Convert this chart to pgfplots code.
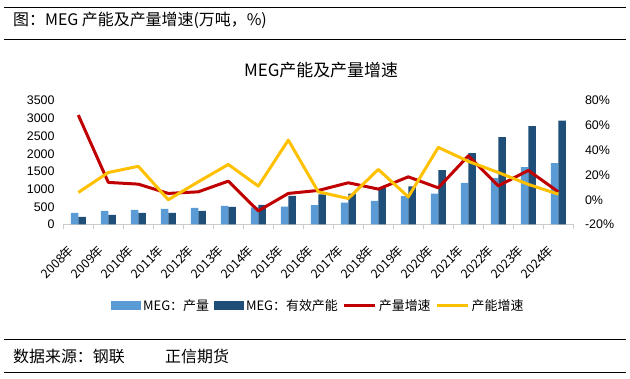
\documentclass[border=0pt]{standalone}
\usepackage{fontspec}
\setmainfont{Liberation Sans}
\newfontfamily\cjk{Noto Sans CJK SC}
\usepackage{pgfplots}
\pgfplotsset{compat=1.18}
\definecolor{lb}{HTML}{5B9BD5}
\definecolor{db}{HTML}{1F4E79}
\definecolor{rd}{HTML}{C00000}
\definecolor{yl}{HTML}{FFC000}
\pgfplotsset{
  barleg/.style={legend image code/.code={\fill[##1] (0bp,-4.5bp) rectangle (30bp,4.5bp);}},
  lineleg/.style={legend image code/.code={\draw[##1] (0bp,0bp) -- (31bp,0bp);}},
}
\newcommand\yr[1]{\mbox{\cjk #1年}}
\begin{document}
\begin{tikzpicture}
\path[use as bounding box] (0,0) rectangle (630bp,379bp);
\draw[line width=1.3bp] (4bp,371.3bp) -- (626bp,371.3bp);
\node[anchor=west, inner sep=0pt, font=\cjk\fontsize{16}{16}\selectfont] at (13bp,359bp) {图：MEG 产能及产量增速(万吨，\%)};
\draw[line width=1.3bp] (4bp,339.7bp) -- (626bp,339.7bp);
\node[inner sep=0pt, font=\cjk\fontsize{17}{17}\selectfont] at (321bp,309bp) {MEG产能及产量增速};
\draw[line width=1.3bp] (4bp,39.7bp) -- (626bp,39.7bp);
\node[anchor=west, inner sep=0pt, font=\cjk\fontsize{16}{16}\selectfont] at (13bp,23bp) {数据来源：钢联};
\node[anchor=west, inner sep=0pt, font=\cjk\fontsize{16}{16}\selectfont] at (165bp,23bp) {正信期货};
\draw[line width=1.3bp] (4bp,6.3bp) -- (626bp,6.3bp);

\begin{axis}[
  at={(63.3bp,154.5bp)}, anchor=south west,
  scale only axis, width=510bp, height=123.8bp,
  xmin=-0.5, xmax=16.5, ymin=0, ymax=3500,
  axis x line*=bottom, axis y line*=left,
  y axis line style={draw=none},
  x axis line style={draw=gray!40, line width=0.9bp, -},
  ytick={0,500,...,3500},
  ytick style={draw=none},
  major tick length=0bp,
  yticklabel style={font=\fontsize{12.5}{14}\selectfont, inner sep=0pt, anchor=east, xshift=-8.5bp},
  /pgf/number format/assume math mode=true,
  /pgf/number format/1000 sep={},
  xtick={0,...,16},
  xticklabels={\yr{2008},\yr{2009},\yr{2010},\yr{2011},\yr{2012},\yr{2013},\yr{2014},\yr{2015},\yr{2016},\yr{2017},\yr{2018},\yr{2019},\yr{2020},\yr{2021},\yr{2022},\yr{2023},\yr{2024}},
  major x tick style={draw=none},
  minor xtick={-0.5,0.5,...,16.5},
  minor x tick style={draw=gray!40, line width=0.9bp},
  minor tick length=5bp,
  tick align=outside,
  xticklabel style={font=\fontsize{12.5}{14}\selectfont, xshift=-11bp, yshift=-19bp, rotate=45, anchor=north east, inner sep=0pt},
  ybar, bar width=7.5bp,
]
\addplot[fill=lb, draw=none, bar shift=-3.75bp] coordinates {
(0,328) (1,385) (2,413) (3,442) (4,470) (5,527) (6,482) (7,505) (8,545) (9,617) (10,670) (11,800) (12,870) (13,1178) (14,1310) (15,1623) (16,1736)};
\addplot[fill=db, draw=none, bar shift=3.75bp] coordinates {
(0,215) (1,272) (2,328) (3,328) (4,385) (5,498) (6,555) (7,810) (8,850) (9,870) (10,1030) (11,1080) (12,1538) (13,2020) (14,2472) (15,2784) (16,2934)};
\end{axis}

\begin{axis}[
  at={(63.3bp,154.5bp)}, anchor=south west,
  scale only axis, width=510bp, height=123.8bp,
  xmin=-0.5, xmax=16.5, ymin=-20, ymax=80,
  axis x line=none, axis y line*=right,
  y axis line style={draw=none},
  ytick={-20,0,...,80},
  ytick style={draw=none},
  major tick length=0bp,
  /pgf/number format/assume math mode=true,
  yticklabel={\pgfmathprintnumber{\tick}\%},
  yticklabel style={font=\fontsize{12.5}{14}\selectfont, inner sep=0pt, anchor=west, xshift=11.5bp},
  legend style={at={(0.5,-0.658)}, anchor=center, draw=none, fill=none,
    font=\cjk\fontsize{13}{13}\selectfont,
    nodes={inner sep=2.5bp},
    /tikz/every even column/.append style={column sep=2bp}},
  legend columns=4,
  legend cell align=left,
]
\addlegendimage{barleg, fill=lb, draw=none}
\addlegendentry{MEG：产量}
\addlegendimage{barleg, fill=db, draw=none}
\addlegendentry{MEG：有效产能}
\addplot[rd, line width=3bp, line join=round, lineleg] coordinates {
(0,68.4) (1,14) (2,12.6) (3,5.1) (4,6.4) (5,15) (6,-9) (7,5.1) (8,7.5) (9,13.7) (10,8.6) (11,18.5) (12,9.6) (13,35.5) (14,11.2) (15,23.7) (16,6.4)};
\addlegendentry{产量增速}
\addplot[yl, line width=3bp, line join=round, lineleg] coordinates {
(0,5.9) (1,22) (2,27) (3,0) (4,14.5) (5,28.5) (6,11) (7,48.2) (8,6.4) (9,1) (10,24.5) (11,2.3) (12,42.3) (13,31) (14,22) (15,12.4) (16,4.5)};
\addlegendentry{产能增速}
\end{axis}
\end{tikzpicture}
\end{document}
